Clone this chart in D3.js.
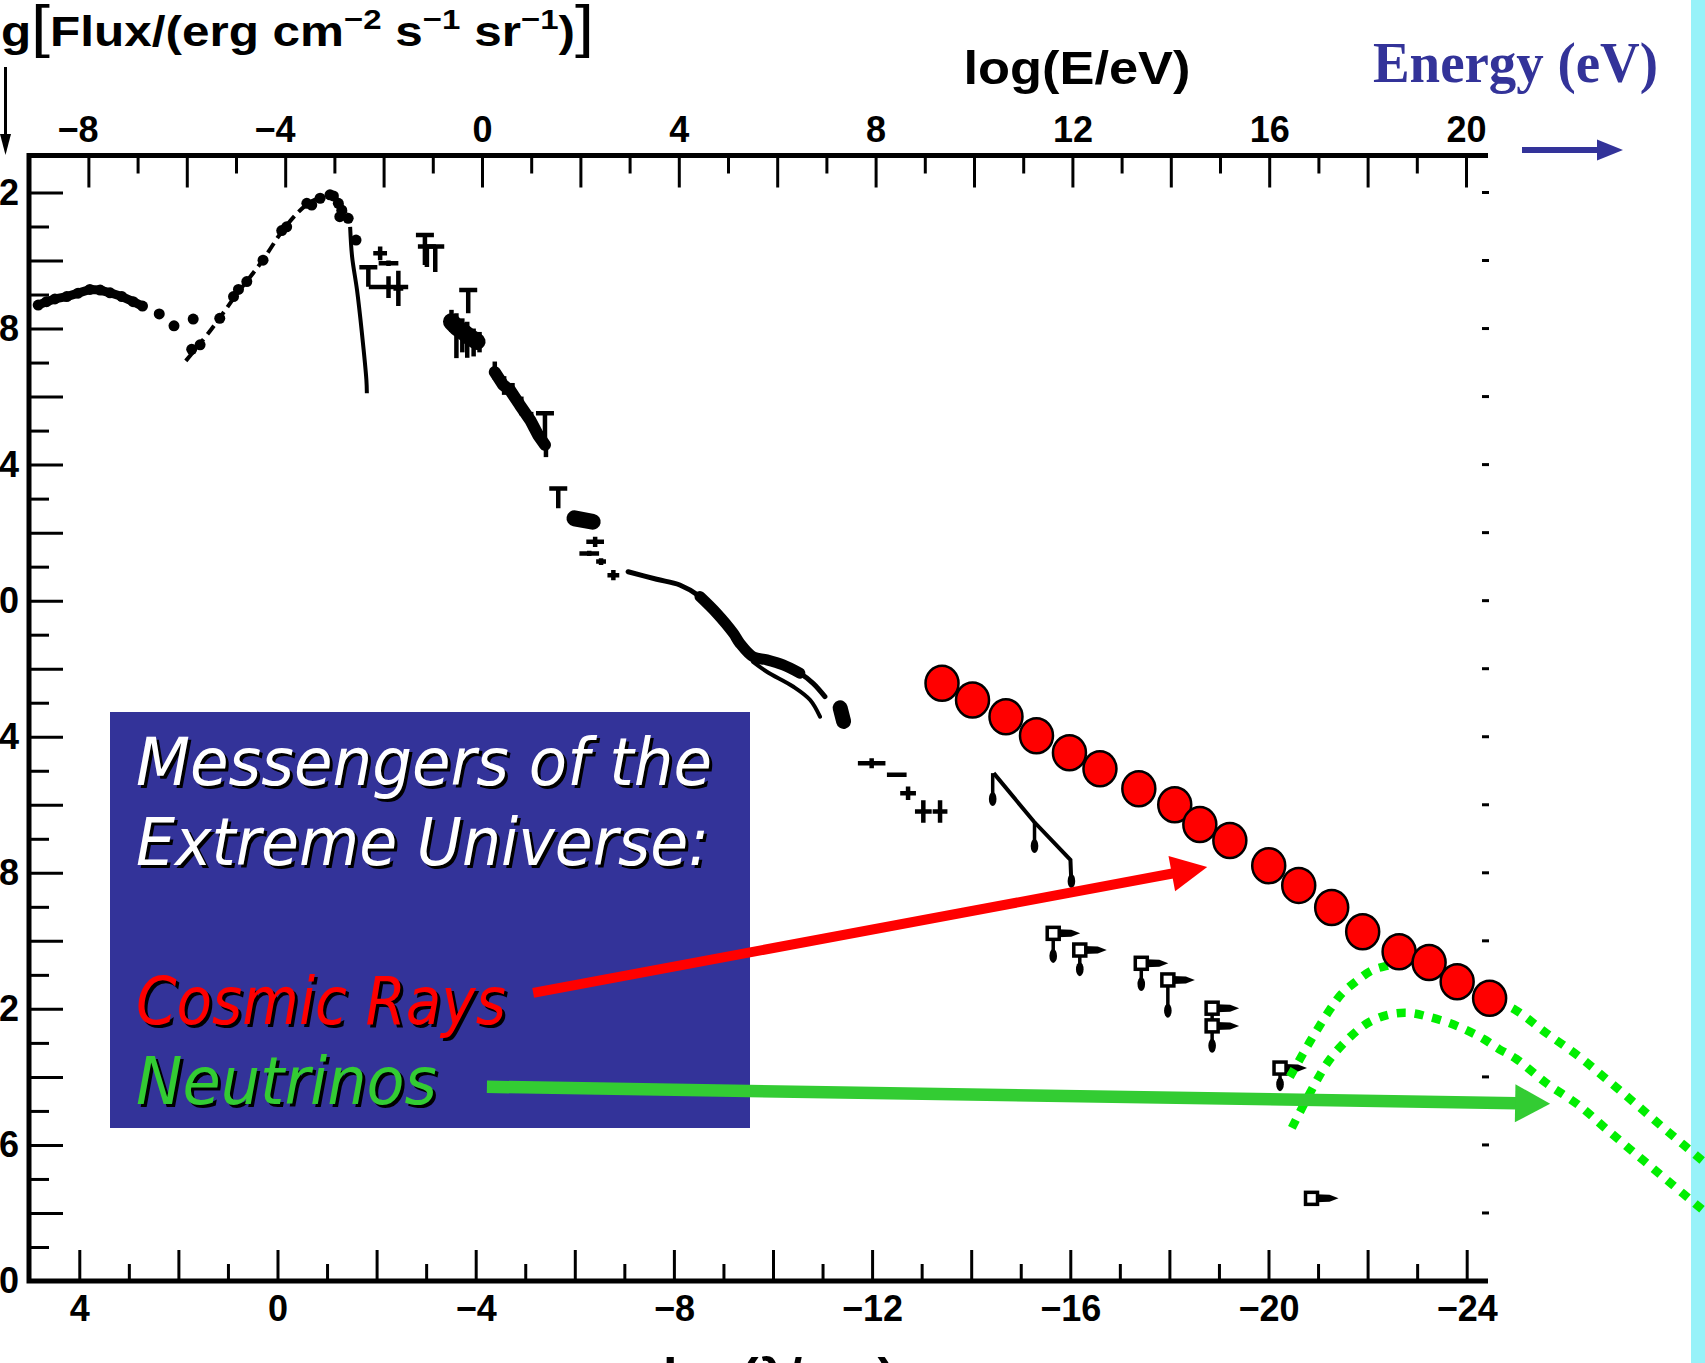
<!DOCTYPE html>
<html>
<head>
<meta charset="UTF-8">
<script src="https://cdnjs.cloudflare.com/ajax/libs/d3/7.8.5/d3.min.js"></script>
<title>Messengers of the Extreme Universe</title>
<style>
  body { margin: 0; background: #fff; overflow: hidden; }
  svg text { font-family: "Liberation Sans", Arial, sans-serif; }
</style>
</head>
<body>
<script>
// ---- data (log10 E/eV , log10 flux) ----
var eLabels = [-8, -4, 0, 4, 8, 12, 16, 20];
var lamLabels = [4, 0, -4, -8, -12, -16, -20, -24];
var fluxLabels = [12, 8, 4, 0, -4, -8, -12, -16, -20];

// radio background
var radio = [[-9.02,8.69],[-8.85,8.79],[-8.68,8.87],[-8.44,8.94],[-8.21,9.04],[-7.97,9.15],[-7.76,9.13],[-7.56,9.05],[-7.32,8.94],[-7.09,8.79],[-6.90,8.66]];
var radioGap = [[-6.56,8.43],[-6.26,8.08],[-5.87,8.28]];
// microwave background
var cmbDash = [[-6.02,7.05],[-5.5,7.98],[-5.0,8.98],[-4.5,9.92],[-4.0,10.98],[-3.6,11.6],[-3.3,11.85],[-3.05,11.93],[-2.85,11.62],[-2.7,11.15]];
var cmbDots = [[-5.90,7.39],[-5.73,7.52],[-5.33,8.30],[-5.05,8.94],[-4.95,9.15],[-4.78,9.38],[-4.45,10.01],[-4.07,10.88],[-3.97,10.99],[-3.56,11.68],[-3.46,11.63],[-3.29,11.83],[-3.09,11.93],[-3.02,11.90],[-2.92,11.68],[-2.85,11.48],[-2.89,11.29],[-2.72,11.24],[-2.56,10.60]];
var cmbCut = [[-2.68,10.99],[-2.64,10.11],[-2.54,9.13],[-2.44,7.86],[-2.35,6.50],[-2.34,6.10]];
// IR / optical / UV points
var capBars = [[-2.31,9.80,9.23],[-1.16,10.75,9.87],[-1.12,10.41,9.81],[-0.95,10.41,9.66],[-0.28,9.13,8.45],[1.28,5.51,4.72],[1.55,3.30,2.72]];
var crosses = [[-2.07,10.21,0.14,0.2],[-1.90,9.92,0.2,0.08],[-1.90,9.22,0.4,0.32],[-1.70,9.18,0.1,0.52],
  [2.30,1.73,0.18,0.15],[2.18,1.39,0.2,0.08],[2.42,1.15,0.1,0.1],[2.67,0.75,0.12,0.15],
  [7.92,-4.78,0.28,0.15],[8.43,-5.12,0.2,0.04],[8.66,-5.66,0.16,0.2],[8.97,-6.2,0.17,0.33],[9.31,-6.2,0.15,0.33]];
var optBand = [[-0.62,8.2],[-0.50,8.02],[-0.38,7.9],[-0.25,7.75],[-0.1,7.62]];
var optBars = [[-0.62,8.55,7.9],[-0.52,8.45,7.13],[-0.40,8.3,7.3],[-0.30,8.2,7.14],[-0.17,8.0,7.18],[-0.05,7.9,7.3]];
var uvBand = [[0.26,6.72],[0.43,6.34],[0.57,6.19],[0.77,5.75],[0.98,5.31],[1.14,4.87],[1.28,4.58]];
var uvBars = [[0.26,7.03,6.5],[0.45,6.6,6.05],[0.62,6.4,5.9],[0.8,6.0,5.45],[1.0,5.55,5.0],[1.3,4.58,4.22]];
var softX = [[1.88,2.42],[2.25,2.32]];
// X-ray / gamma-ray
var xGamma = [[2.97,0.85],[3.55,0.63],[4.02,0.46],[4.43,0.12],[4.77,-0.37],[5.11,-0.96],[5.24,-1.25],[5.51,-1.65],[5.79,-1.74],[6.12,-1.89],[6.46,-2.13],[6.73,-2.43],[6.97,-2.82]];
var xGammaLow = [[5.51,-1.80],[5.79,-2.09],[6.33,-2.53],[6.67,-2.92],[6.87,-3.41]];
var gammaBlob = [[7.28,-3.15],[7.35,-3.55]];
// upper limits
var ulLine = [[10.40,-5.07],[11.22,-6.50],[11.96,-7.62],[11.98,-8.36]];
var ulDrops = [[10.38,-5.07,-5.95],[11.23,-6.50,-7.33]];
var ulBoxes = [[11.61,-9.78,-10.56],[12.15,-10.27,-10.95],[13.40,-10.66,-11.39],[13.94,-11.15,-12.17],[14.84,-11.98,-13.2],[14.84,-12.50,null],[16.22,-13.74,-14.33],[16.86,-17.57,null]];
// cosmic rays (red)
var crLogE = [9.35,9.97,10.65,11.27,11.94,12.56,13.35,14.08,14.59,15.20,15.99,16.60,17.27,17.90,18.64,19.25,19.82,20.48];
var crLogF = [-2.43,-2.92,-3.41,-3.97,-4.47,-4.94,-5.53,-6.00,-6.58,-7.05,-7.79,-8.37,-9.02,-9.73,-10.32,-10.64,-11.20,-11.69];
// neutrino bands (green dotted)
var nuHigh = [[16.42,-14.0],[16.83,-12.96],[17.24,-12.01],[17.47,-11.56],[17.76,-11.20],[18.10,-10.86],[18.46,-10.71],[18.72,-10.62],[19.27,-10.86],[19.88,-11.27],[20.49,-11.68],[21.0,-12.03],[21.64,-12.72],[22.28,-13.38],[22.89,-14.11],[23.47,-14.82],[24.08,-15.58],[24.86,-16.53]];
var nuLow = [[16.46,-15.50],[16.83,-14.47],[17.24,-13.47],[17.78,-12.65],[18.11,-12.33],[18.49,-12.15],[18.86,-12.12],[19.23,-12.23],[19.63,-12.40],[20.0,-12.62],[20.35,-12.88],[20.67,-13.18],[21.02,-13.47],[21.64,-14.19],[22.28,-14.82],[22.89,-15.58],[23.47,-16.29],[24.08,-17.03],[24.86,-17.97]];
// pointer arrows (from, to)
var arrowCR = [[1.04,-11.53],[14.74,-7.83]];
var arrowNu = [[0.10,-14.29],[21.71,-14.79]];

// ---- canvas ----
var W = 1705, H = 1363;
var svg = d3.select("body").append("svg")
    .attr("width", W).attr("height", H)
    .style("display", "block");

var X0 = 29, X1 = 1488, Y0 = 155.5, Y1 = 1281;
var xE = d3.scaleLinear().domain([-9.207, 20.447]).range([X0, X1]);   // top axis
var xL = d3.scaleLinear().domain([5.015, -24.43]).range([X0, X1]);    // bottom axis
var y = d3.scaleLinear().domain([13.087, -20]).range([Y0, Y1]);

var fmt = function(d) { return d < 0 ? "\u2212" + (-d) : String(d); };
var line = d3.line().x(function(d) { return xE(d[0]); }).y(function(d) { return y(d[1]); });
var curve = d3.line().curve(d3.curveCatmullRom).x(function(d) { return xE(d[0]); }).y(function(d) { return y(d[1]); });

svg.append("rect").attr("width", W).attr("height", H).attr("fill", "#fff");
svg.append("rect").attr("x", 1691).attr("width", W - 1691).attr("height", H).attr("fill", "#97f2f9");

function styleAxis(g) {
  g.select(".domain").remove();
  g.selectAll(".tick line").attr("stroke", "#000").attr("stroke-width", 3);
  g.selectAll(".tick text").attr("fill", "#000")
    .style("font-family", "'Liberation Sans', Arial, sans-serif")
    .style("font-weight", "bold").style("font-size", "36px");
}

// top axis: log(E/eV)
svg.append("g").attr("transform", "translate(0," + Y0 + ")")
  .call(d3.axisTop(xE).tickValues(d3.range(-8, 21, 2)).tickSize(-32).tickPadding(14)
    .tickFormat(function(d) { return eLabels.indexOf(d) >= 0 ? fmt(d) : ""; }))
  .call(styleAxis)
  .call(function(g) { g.selectAll(".tick text").attr("dx", function(d) { return d < 0 ? "-0.3em" : 0; }); });
svg.append("g").attr("transform", "translate(0," + Y0 + ")")
  .call(d3.axisTop(xE).tickValues(d3.range(-7, 20, 2)).tickSize(-18).tickFormat(""))
  .call(styleAxis);

// bottom axis: log(lambda/cm)
svg.append("g").attr("transform", "translate(0," + Y1 + ")")
  .call(d3.axisBottom(xL).tickValues(d3.range(-24, 5, 2)).tickSize(-31).tickPadding(14)
    .tickFormat(function(d) { return lamLabels.indexOf(d) >= 0 ? fmt(d) : ""; }))
  .call(styleAxis);
svg.append("g").attr("transform", "translate(0," + Y1 + ")")
  .call(d3.axisBottom(xL).tickValues(d3.range(-23, 4, 2)).tickSize(-17).tickFormat(""))
  .call(styleAxis);

// left axis: flux
svg.append("g").attr("transform", "translate(" + X0 + ",0)")
  .call(d3.axisLeft(y).tickValues(d3.range(-20, 13, 2)).tickSize(-34).tickPadding(10)
    .tickFormat(function(d) { return fluxLabels.indexOf(d) >= 0 ? fmt(d) : ""; }))
  .call(styleAxis);
svg.append("g").attr("transform", "translate(" + X0 + ",0)")
  .call(d3.axisLeft(y).tickValues(d3.range(-19, 12, 2)).tickSize(-20).tickFormat(""))
  .call(styleAxis);

// right side: only small dashes
svg.selectAll(null).data(d3.range(-18, 13, 2)).join("line")
  .attr("x1", X1 - 6).attr("x2", X1 + 1)
  .attr("y1", function(d) { return y(d); }).attr("y2", function(d) { return y(d); })
  .attr("stroke", "#000").attr("stroke-width", 3);

// frame
svg.append("path")
  .attr("d", "M" + X1 + "," + Y0 + "H" + X0 + "V" + Y1 + "H" + X1)
  .attr("fill", "none").attr("stroke", "#000").attr("stroke-width", 5);

// axis titles
svg.append("text").attr("x", 1077).attr("y", 84).attr("text-anchor", "middle")
  .attr("textLength", 227).attr("lengthAdjust", "spacingAndGlyphs")
  .style("font-size", "46px").style("font-weight", "bold").text("log(E/eV)");
svg.append("text").attr("x", 779).attr("y", 1391).attr("text-anchor", "middle")
  .attr("textLength", 232).attr("lengthAdjust", "spacingAndGlyphs")
  .style("font-size", "46px").style("font-weight", "bold").text("log(\u03bb/cm)");

var yt = svg.append("text").attr("x", -43).attr("y", 46)
  .attr("textLength", 637).attr("lengthAdjust", "spacingAndGlyphs")
  .style("font-size", "42px").style("font-weight", "bold");
yt.append("tspan").text("log");
yt.append("tspan").style("font-size", "58px").style("font-weight", "normal").text("[");
yt.append("tspan").text("Flux/(erg cm");
yt.append("tspan").attr("dy", -17).style("font-size", "28px").text("\u22122");
yt.append("tspan").attr("dy", 17).text(" s");
yt.append("tspan").attr("dy", -17).style("font-size", "28px").text("\u22121");
yt.append("tspan").attr("dy", 17).text(" sr");
yt.append("tspan").attr("dy", -17).style("font-size", "28px").text("\u22121");
yt.append("tspan").attr("dy", 17).text(")");
yt.append("tspan").style("font-size", "58px").style("font-weight", "normal").text("]");

// little down arrow under the y title
svg.append("line").attr("x1", 5.5).attr("x2", 5.5).attr("y1", 67).attr("y2", 138)
  .attr("stroke", "#000").attr("stroke-width", 3);
svg.append("path").attr("d", "M5.5,155L0,134L11,134Z").attr("fill", "#000");

// ---- black spectrum ----
var ink = "#000";
svg.append("path").attr("d", line(radio)).attr("fill", "none").attr("stroke", ink)
  .attr("stroke-width", 9).attr("stroke-linecap", "round").attr("stroke-linejoin", "round");
svg.selectAll(null).data(radio.concat(radioGap)).join("circle")
  .attr("cx", function(d) { return xE(d[0]); }).attr("cy", function(d) { return y(d[1]); })
  .attr("r", 5.5).attr("fill", ink);

svg.append("path").attr("d", curve(cmbDash)).attr("fill", "none").attr("stroke", ink)
  .attr("stroke-width", 4).attr("stroke-dasharray", "11 6");
svg.selectAll(null).data(cmbDots).join("circle")
  .attr("cx", function(d) { return xE(d[0]); }).attr("cy", function(d) { return y(d[1]); })
  .attr("r", 5.5).attr("fill", ink);
svg.append("path").attr("d", curve(cmbCut)).attr("fill", "none").attr("stroke", ink).attr("stroke-width", 4);

// capped bars
svg.selectAll(null).data(capBars).join("path")
  .attr("d", function(d) {
    var cx = xE(d[0]);
    return "M" + (cx - 9) + "," + y(d[1]) + "H" + (cx + 9) + "M" + cx + "," + y(d[1]) + "V" + y(d[2]);
  })
  .attr("fill", "none").attr("stroke", ink).attr("stroke-width", 4.5);

// crosses
svg.selectAll(null).data(crosses).join("path")
  .attr("d", function(d) {
    var cx = xE(d[0]), cy = y(d[1]);
    var s = "M" + xE(d[0] - d[2]) + "," + cy + "H" + xE(d[0] + d[2]);
    if (d[3] > 0) s += "M" + cx + "," + y(d[1] + d[3]) + "V" + y(d[1] - d[3]);
    return s;
  })
  .attr("fill", "none").attr("stroke", ink).attr("stroke-width", 4.5);

// dense optical and UV clusters
svg.append("path").attr("d", line(optBand)).attr("fill", "none").attr("stroke", ink)
  .attr("stroke-width", 17).attr("stroke-linecap", "round").attr("stroke-linejoin", "round");
svg.append("path").attr("d", line(uvBand)).attr("fill", "none").attr("stroke", ink)
  .attr("stroke-width", 12).attr("stroke-linecap", "round").attr("stroke-linejoin", "round");
svg.selectAll(null).data(optBars.concat(uvBars)).join("line")
  .attr("x1", function(d) { return xE(d[0]); }).attr("x2", function(d) { return xE(d[0]); })
  .attr("y1", function(d) { return y(d[1]); }).attr("y2", function(d) { return y(d[2]); })
  .attr("stroke", ink).attr("stroke-width", 4.5);
svg.append("path").attr("d", line(softX)).attr("stroke", ink).attr("stroke-width", 16)
  .attr("stroke-linecap", "round");

// x-ray and gamma-ray band
svg.append("path").attr("d", curve(xGamma)).attr("fill", "none").attr("stroke", ink)
  .attr("stroke-width", 5).attr("stroke-linecap", "round");
svg.append("path").attr("d", curve(xGamma.slice(3, 11))).attr("fill", "none").attr("stroke", ink)
  .attr("stroke-width", 11).attr("stroke-linecap", "round");
svg.append("path").attr("d", curve(xGammaLow)).attr("fill", "none").attr("stroke", ink)
  .attr("stroke-width", 4).attr("stroke-linecap", "round");
svg.append("path").attr("d", line(gammaBlob)).attr("stroke", ink).attr("stroke-width", 15)
  .attr("stroke-linecap", "round");

// upper-limit line with drop arrows
svg.append("path").attr("d", line(ulLine)).attr("fill", "none").attr("stroke", ink).attr("stroke-width", 4);
svg.selectAll(null).data(ulDrops).join("line")
  .attr("x1", function(d) { return xE(d[0]); }).attr("x2", function(d) { return xE(d[0]); })
  .attr("y1", function(d) { return y(d[1]); }).attr("y2", function(d) { return y(d[2]); })
  .attr("stroke", ink).attr("stroke-width", 3.5);
var drops = ulDrops.map(function(d) { return [d[0], d[2]]; }).concat([ulLine[ulLine.length - 1]]);

// open squares with tails
ulBoxes.forEach(function(d) {
  var cx = xE(d[0]), cy = y(d[1]);
  if (d[2] !== null) {
    svg.append("line").attr("x1", cx).attr("x2", cx).attr("y1", cy).attr("y2", y(d[2]))
      .attr("stroke", ink).attr("stroke-width", 3.5);
    drops.push([d[0], d[2]]);
  }
  svg.append("path")
    .attr("d", "M" + (cx + 4) + "," + (cy - 4) + "L" + (cx + 18) + "," + (cy - 3.5) + "L" + (cx + 27) + "," + cy +
      "L" + (cx + 18) + "," + (cy + 3.5) + "L" + (cx + 4) + "," + (cy + 4) + "Z")
    .attr("fill", ink);
  svg.append("rect").attr("x", cx - 6).attr("y", cy - 6).attr("width", 12).attr("height", 12)
    .attr("fill", "#fff").attr("stroke", ink).attr("stroke-width", 3.5);
});
svg.selectAll(null).data(drops).join("ellipse")
  .attr("cx", function(d) { return xE(d[0]); }).attr("cy", function(d) { return y(d[1]) - 4; })
  .attr("rx", 3.8).attr("ry", 7).attr("fill", ink);

// ---- neutrinos: green dotted ----
[nuHigh, nuLow].forEach(function(b) {
  svg.append("path").attr("d", curve(b)).attr("fill", "none").attr("stroke", "#00ee00")
    .attr("stroke-width", 8.5).attr("stroke-dasharray", "9 9");
});

// ---- cosmic rays: red dots ----
svg.selectAll(null).data(d3.range(crLogE.length)).join("ellipse")
  .attr("cx", function(i) { return xE(crLogE[i]); })
  .attr("cy", function(i) { return y(crLogF[i]); })
  .attr("rx", 16.5).attr("ry", 17.5)
  .attr("fill", "#ff0000").attr("stroke", "#000").attr("stroke-width", 2.5);

// ---- label box ----
svg.append("rect").attr("x", 110).attr("y", 712).attr("width", 640).attr("height", 416).attr("fill", "#333399");
var boxLines = [
  { t: "Messengers of the", c: "#ffffff", yy: 785, len: 576 },
  { t: "Extreme Universe:", c: "#ffffff", yy: 865, len: 573 },
  { t: "Cosmic Rays", c: "#ff0000", yy: 1024, len: 370 },
  { t: "Neutrinos", c: "#33cc33", yy: 1104, len: 301 }
];
boxLines.forEach(function(l) {
  [["#000", 3], [l.c, 0]].forEach(function(p) {
    svg.append("text").attr("x", 136 + p[1]).attr("y", l.yy + p[1])
      .attr("textLength", l.len).attr("lengthAdjust", "spacingAndGlyphs")
      .style("font-family", "'DejaVu Sans', Verdana, sans-serif").style("font-style", "italic")
      .style("font-size", "66px").attr("fill", p[0]).text(l.t);
  });
});

// ---- pointer arrows ----
function arrow(p, width, headLen, headHalf, color) {
  var x0 = xE(p[0][0]), y0 = y(p[0][1]), x1 = xE(p[1][0]), y1 = y(p[1][1]);
  var dx = x1 - x0, dy = y1 - y0, L = Math.sqrt(dx * dx + dy * dy), ux = dx / L, uy = dy / L;
  var bx = x1 - ux * headLen, by = y1 - uy * headLen;
  svg.append("line").attr("x1", x0).attr("y1", y0).attr("x2", bx + ux * 2).attr("y2", by + uy * 2)
    .attr("stroke", color).attr("stroke-width", width);
  svg.append("path")
    .attr("d", "M" + x1 + "," + y1 + "L" + (bx - uy * headHalf) + "," + (by + ux * headHalf) +
      "L" + (bx + uy * headHalf) + "," + (by - ux * headHalf) + "Z")
    .attr("fill", color);
}
arrow(arrowCR, 10, 36, 18, "#ff0000");
arrow(arrowNu, 12.5, 35, 19, "#33cc33");

// ---- energy label, top right ----
svg.append("text").attr("x", 1373).attr("y", 82)
  .attr("textLength", 285).attr("lengthAdjust", "spacingAndGlyphs")
  .style("font-family", "'Liberation Serif', 'Times New Roman', serif").style("font-weight", "bold")
  .style("font-size", "56px").attr("fill", "#333399").text("Energy (eV)");
svg.append("line").attr("x1", 1522).attr("x2", 1600).attr("y1", 150).attr("y2", 150)
  .attr("stroke", "#333399").attr("stroke-width", 6);
svg.append("path").attr("d", "M1623,150L1597,139.5L1597,160.5Z").attr("fill", "#333399");
</script>
</body>
</html>
